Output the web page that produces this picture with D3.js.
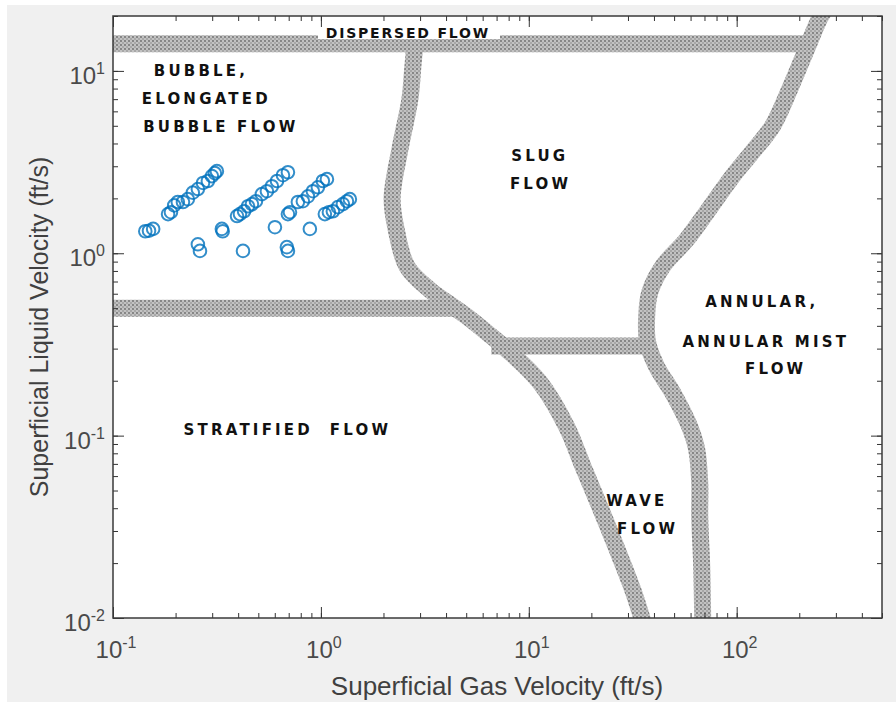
<!DOCTYPE html>
<html>
<head>
<meta charset="utf-8">
<script src="https://cdn.jsdelivr.net/npm/d3@7"></script>
<style>
  body { margin: 0; background: #fff; }
  svg { display: block; }
</style>
</head>
<body>
<svg id="chart" width="896" height="702"></svg>
<script>
// axis decades
const gasTicks = [0.1, 1, 10, 100];
const liqTicks = [0.01, 0.1, 1, 10];

// measured points (superficial gas / liquid velocity, ft/s)
const gasVel = [
  0.143, 0.149, 0.156,
  0.184, 0.190, 0.197, 0.205, 0.217, 0.229, 0.242, 0.256, 0.271, 0.286, 0.299, 0.309, 0.316,
  0.256, 0.262, 0.334, 0.337,
  0.395, 0.408, 0.427, 0.446, 0.466, 0.487, 0.520, 0.550, 0.581, 0.615, 0.657, 0.694,
  0.422, 0.601,
  0.686, 0.694,
  0.694, 0.710, 0.775, 0.819, 0.866, 0.915, 0.967, 1.022, 1.069,
  0.885, 1.045, 1.093, 1.142, 1.207, 1.276, 1.334, 1.378
];
const liqVel = [
  1.32, 1.33, 1.36,
  1.64, 1.68, 1.83, 1.91, 1.91, 1.98, 2.15, 2.25, 2.43, 2.49, 2.65, 2.75, 2.82,
  1.12, 1.03, 1.36, 1.32,
  1.60, 1.64, 1.70, 1.81, 1.86, 1.93, 2.11, 2.19, 2.33, 2.49, 2.68, 2.78,
  1.03, 1.39,
  1.08, 1.03,
  1.64, 1.68, 1.91, 1.93, 2.05, 2.19, 2.30, 2.49, 2.55,
  1.36, 1.64, 1.68, 1.70, 1.79, 1.86, 1.93, 1.98
];

// flow regime boundaries, [gas, liquid]
const dispersedBand = [[0.08, 14.1], [212, 14.1]];
const bubbleBand = [[0.08, 0.5], [4.4, 0.5]];
const waveBand = [[6.6, 0.31], [38, 0.31]];
const slugBoundary = [
  [2.85, 15], [2.77, 10.6], [2.68, 7.0], [2.40, 3.72], [2.2, 2.0], [2.3, 1.36],
  [2.59, 0.85], [3.34, 0.63], [4.17, 0.525], [5.04, 0.45], [6.28, 0.368], [7.84, 0.297],
  [11.3, 0.196], [15.2, 0.112], [18.2, 0.068], [21.9, 0.041], [26.5, 0.024],
  [31.6, 0.0143], [36, 0.009]
];
const annularBoundary = [
  [270, 22], [254, 20], [217, 13.2], [180, 7.96], [149, 5.0], [119, 3.59], [95.7, 2.65],
  [71.8, 1.68], [57.5, 1.19], [44.1, 0.848], [38.2, 0.611], [36.9, 0.451], [37.3, 0.324],
  [41.2, 0.239], [49.2, 0.172], [59.4, 0.112], [64.2, 0.084], [66.4, 0.055], [66.4, 0.036],
  [67.9, 0.019], [68.7, 0.009]
];

// region names, centred at [gas, liquid]
const regionText = ["DISPERSED FLOW", "BUBBLE,", "ELONGATED", "BUBBLE FLOW", "SLUG", "FLOW",
  "ANNULAR,", "ANNULAR MIST", "FLOW", "STRATIFIED  FLOW", "WAVE", "FLOW"];
const regionGas = [2.62, 0.265, 0.281, 0.330, 11.3, 11.4, 132, 138, 154, 0.69, 33.1, 37.3];
const regionLiq = [16.2, 10.0, 7.02, 4.92, 3.41, 2.39, 0.538, 0.328, 0.231, 0.108, 0.044, 0.0308];

const plot = { left: 113, top: 16, right: 882, bottom: 618 };

const svg = d3.select("#chart");

// figure background
svg.append("rect")
  .attr("x", 7).attr("y", 5)
  .attr("width", 889).attr("height", 697)
  .attr("fill", "#f0f0f0");

const x = d3.scaleLog().domain([0.1, 500]).range([plot.left, plot.right]);
const y = d3.scaleLog().domain([0.01, 20]).range([plot.bottom, plot.top]);

svg.append("rect")
  .attr("x", plot.left).attr("y", plot.top)
  .attr("width", plot.right - plot.left).attr("height", plot.bottom - plot.top)
  .attr("fill", "#fff");

const defs = svg.append("defs");
defs.append("clipPath").attr("id", "plotClip")
  .append("rect")
  .attr("x", plot.left).attr("y", plot.top)
  .attr("width", plot.right - plot.left).attr("height", plot.bottom - plot.top);

// stippled grey for the boundary bands
const pat = defs.append("pattern")
  .attr("id", "stipple")
  .attr("patternUnits", "userSpaceOnUse")
  .attr("width", 4).attr("height", 4);
pat.append("rect").attr("width", 4).attr("height", 4).attr("fill", "#c2c2c2");
pat.append("circle").attr("cx", 1).attr("cy", 1).attr("r", 0.9).attr("fill", "#6a6a6a");
pat.append("circle").attr("cx", 3).attr("cy", 3).attr("r", 0.8).attr("fill", "#858585");

const bands = svg.append("g").attr("clip-path", "url(#plotClip)");

const line = d3.line()
  .x(d => x(d[0]))
  .y(d => y(d[1]))
  .curve(d3.curveCatmullRom.alpha(0.5));

[dispersedBand, bubbleBand, waveBand, slugBoundary, annularBoundary].forEach(b => {
  bands.append("path")
    .datum(b)
    .attr("d", line)
    .attr("fill", "none")
    .attr("stroke", "url(#stipple)")
    .attr("stroke-width", 17)
    .attr("stroke-linejoin", "round");
});

// white box behind the top label
svg.append("rect")
  .attr("x", 318).attr("y", plot.top + 1)
  .attr("width", 182).attr("height", 22)
  .attr("fill", "#fff");

// region labels
svg.append("g")
  .selectAll("text")
  .data(regionText)
  .enter()
  .append("text")
  .attr("x", (d, i) => x(regionGas[i]))
  .attr("y", (d, i) => y(regionLiq[i]))
  .attr("text-anchor", "middle")
  .attr("dominant-baseline", "central")
  .attr("xml:space", "preserve")
  .style("white-space", "pre")
  .style("font-family", "'DejaVu Sans', sans-serif")
  .style("font-weight", "bold")
  .style("font-size", (d, i) => i === 0 ? "14px" : "15px")
  .style("letter-spacing", (d, i) => i === 0 ? "1.8px" : "3.2px")
  .style("fill", "#111")
  .text(d => d);

// data points
svg.append("g")
  .selectAll("circle")
  .data(gasVel)
  .enter()
  .append("circle")
  .attr("cx", d => x(d))
  .attr("cy", (d, i) => y(liqVel[i]))
  .attr("r", 6.3)
  .attr("fill", "none")
  .attr("stroke", "#0072BD")
  .attr("stroke-width", 2)
  .attr("stroke-opacity", 0.8);

// ticks on all four sides
function tickSet(axisFn, scale, values, size, tx, ty) {
  const g = svg.append("g")
    .attr("transform", `translate(${tx},${ty})`)
    .call(axisFn(scale).tickValues(values).tickSize(-size).tickSizeOuter(0).tickFormat(""));
  g.select(".domain").remove();
  g.selectAll("line").attr("stroke", "#333").attr("stroke-width", 1);
}
tickSet(d3.axisBottom, x, x.ticks(), 5, 0, plot.bottom);
tickSet(d3.axisBottom, x, gasTicks, 11, 0, plot.bottom);
tickSet(d3.axisTop, x, x.ticks(), 5, 0, plot.top);
tickSet(d3.axisTop, x, gasTicks, 11, 0, plot.top);
tickSet(d3.axisLeft, y, y.ticks(), 5, plot.left, 0);
tickSet(d3.axisLeft, y, liqTicks, 11, plot.left, 0);
tickSet(d3.axisRight, y, y.ticks(), 5, plot.right, 0);
tickSet(d3.axisRight, y, liqTicks, 11, plot.right, 0);

// axes box
svg.append("rect")
  .attr("x", plot.left).attr("y", plot.top)
  .attr("width", plot.right - plot.left).attr("height", plot.bottom - plot.top)
  .attr("fill", "none")
  .attr("stroke", "#3a3a3a")
  .attr("stroke-width", 1.5);

// power-of-ten tick labels
function powLabel(sel, v) {
  const e = Math.round(Math.log10(v));
  sel.append("tspan").text("10");
  sel.append("tspan").attr("dy", -10).style("font-size", "16px").text(e);
}
const labelStyle = sel => sel
  .style("font-family", "'Liberation Sans', Arial, sans-serif")
  .style("font-size", "24px")
  .style("fill", "#4a4a4a");

gasTicks.forEach(v => {
  svg.append("text")
    .attr("x", x(v) + 3)
    .attr("y", plot.bottom + 40)
    .attr("text-anchor", "middle")
    .call(labelStyle)
    .call(powLabel, v);
});
liqTicks.forEach(v => {
  svg.append("text")
    .attr("x", plot.left - 8)
    .attr("y", y(v) + 13)
    .attr("text-anchor", "end")
    .call(labelStyle)
    .call(powLabel, v);
});

svg.append("text")
  .attr("x", 497)
  .attr("y", 695)
  .attr("text-anchor", "middle")
  .style("font-family", "'Liberation Sans', Arial, sans-serif")
  .style("font-size", "26px")
  .style("fill", "#404040")
  .text("Superficial Gas Velocity (ft/s)");

svg.append("text")
  .attr("transform", "translate(48,327) rotate(-90)")
  .attr("text-anchor", "middle")
  .style("font-family", "'Liberation Sans', Arial, sans-serif")
  .style("font-size", "25px")
  .style("fill", "#404040")
  .text("Superficial Liquid Velocity (ft/s)");
</script>
</body>
</html>
